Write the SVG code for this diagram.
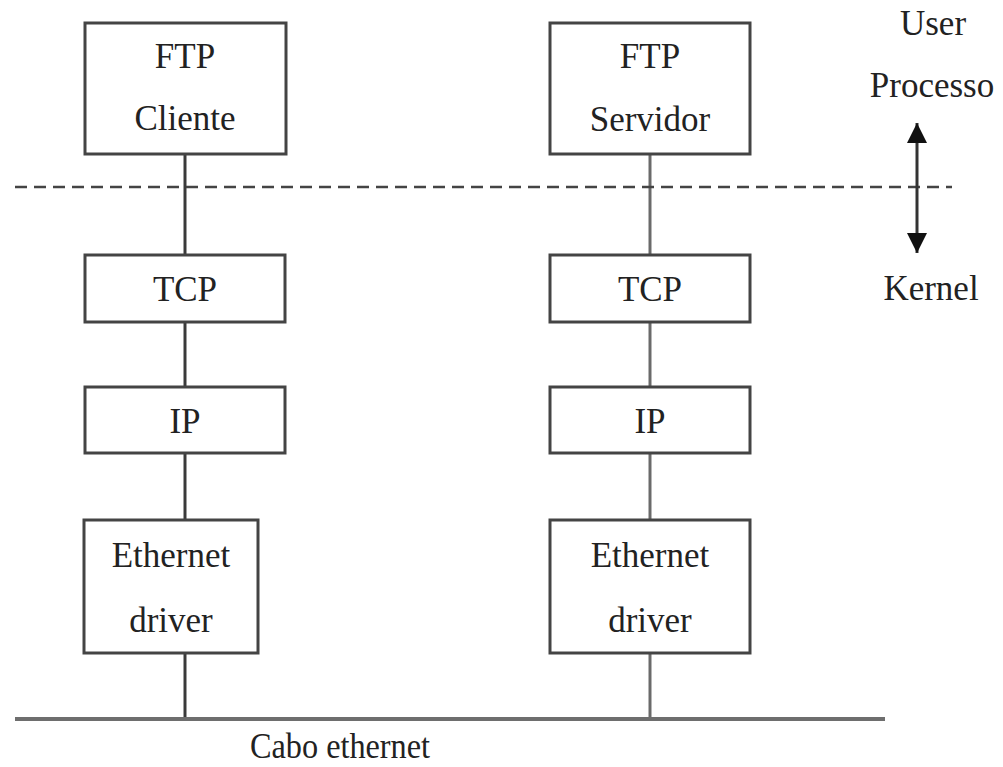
<svg xmlns="http://www.w3.org/2000/svg" width="1003" height="767" viewBox="0 0 1003 767">
  <style>
    .box { fill: #fff; stroke: #444; stroke-width: 3; }
    .lbl { font-size: 35px; fill: #222; text-anchor: middle; }
    .link { stroke: #3a3a3a; stroke-width: 3; fill: none; }
    .link2 { stroke: #6a6a6a; stroke-width: 3; fill: none; }
  </style>
  <defs>
    <marker id="head" viewBox="0 0 20 20" refX="20" refY="10" markerWidth="20" markerHeight="20" markerUnits="userSpaceOnUse" orient="auto">
      <path d="M0,0 L20,10 L0,20 Z" fill="#111"/>
    </marker>
  </defs>

  <rect width="1003" height="767" fill="#fff"/>

  <!-- connectors -->
  <g id="connectors">
    <line class="link" x1="185" y1="154" x2="185" y2="255"/>
    <line class="link" x1="185" y1="322" x2="185" y2="387"/>
    <line class="link" x1="185" y1="453" x2="185" y2="520"/>
    <line class="link" x1="185" y1="653" x2="185" y2="719"/>
    <line class="link2" x1="650" y1="154" x2="650" y2="255"/>
    <line class="link2" x1="650" y1="322" x2="650" y2="387"/>
    <line class="link2" x1="650" y1="453" x2="650" y2="520"/>
    <line class="link2" x1="650" y1="653" x2="650" y2="719"/>
    <!-- user/kernel boundary -->
    <line x1="15" y1="187" x2="952" y2="187" stroke="#444" stroke-width="2.5" stroke-dasharray="12 7"/>
    <!-- ethernet cable -->
    <line x1="15" y1="719" x2="885" y2="719" stroke="#6e6e6e" stroke-width="4"/>
    <!-- user/kernel double arrow -->
    <line x1="917" y1="143" x2="917" y2="123" stroke="#333" stroke-width="3" marker-end="url(#head)"/>
    <line x1="917" y1="143" x2="917" y2="253" stroke="#333" stroke-width="3" marker-end="url(#head)"/>
  </g>

  <g font-family="Liberation Serif, DejaVu Serif, serif">
    <g id="ftp-cliente">
      <rect class="box" x="85" y="23" width="201" height="131"/>
      <text class="lbl" x="185" y="68">FTP</text>
      <text class="lbl" x="185" y="130">Cliente</text>
    </g>
    <g id="ftp-servidor">
      <rect class="box" x="550" y="23" width="200" height="131"/>
      <text class="lbl" x="650" y="68">FTP</text>
      <text class="lbl" x="650" y="131">Servidor</text>
    </g>
    <g id="tcp-cliente">
      <rect class="box" x="85" y="255" width="200" height="67"/>
      <text class="lbl" x="185" y="301">TCP</text>
    </g>
    <g id="tcp-servidor">
      <rect class="box" x="550" y="255" width="200" height="67"/>
      <text class="lbl" x="650" y="301">TCP</text>
    </g>
    <g id="ip-cliente">
      <rect class="box" x="85" y="387" width="200" height="66"/>
      <text class="lbl" x="185" y="433">IP</text>
    </g>
    <g id="ip-servidor">
      <rect class="box" x="550" y="387" width="200" height="66"/>
      <text class="lbl" x="650" y="433">IP</text>
    </g>
    <g id="eth-cliente">
      <rect class="box" x="84" y="520" width="174" height="133"/>
      <text class="lbl" x="171" y="567">Ethernet</text>
      <text class="lbl" x="171" y="632">driver</text>
    </g>
    <g id="eth-servidor">
      <rect class="box" x="550" y="520" width="200" height="133"/>
      <text class="lbl" x="650" y="567">Ethernet</text>
      <text class="lbl" x="650" y="632">driver</text>
    </g>

    <g id="labels">
      <text class="lbl" x="933" y="35">User</text>
      <text class="lbl" x="932" y="97">Processo</text>
      <text class="lbl" x="931" y="300">Kernel</text>
      <text class="lbl" x="340" y="758" textLength="180" lengthAdjust="spacingAndGlyphs">Cabo ethernet</text>
    </g>
  </g>
</svg>
